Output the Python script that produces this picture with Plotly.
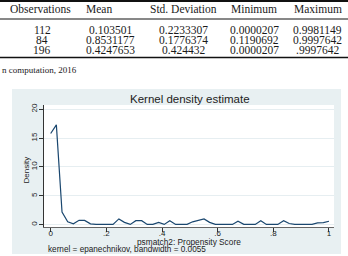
import plotly.graph_objects as go

# ---------------- data ----------------
table_headers = ["Observations", "Mean", "Std. Deviation", "Minimum", "Maximum"]
col_observations = ["112", "84", "196"]
col_mean = ["0.103501", "0.8531177", "0.4247653"]
col_std = ["0.2233307", "0.1776374", "0.424432"]
col_min = ["0.0000207", "0.1190692", "0.0000207"]
col_max = ["0.9981149", "0.9997642", ".9997642"]
table_note = "n computation, 2016"

chart_title = "Kernel density estimate"
x_title = "psmatch2: Propensity Score"
y_title = "Density"
kernel_note = "kernel = epanechnikov, bandwidth = 0.0055"

x_tick_vals = [0, 0.2, 0.4, 0.6, 0.8, 1]
x_tick_text = ["0", ".2", ".4", ".6", ".8", "1"]
y_tick_vals = [0, 5, 10, 15, 20]
y_tick_text = ["0", "5", "10", "15", "20"]

score = [0.000, 0.0204, 0.0408, 0.0612, 0.0816, 0.102, 0.122, 0.143, 0.163, 0.184,
         0.204, 0.224, 0.245, 0.265, 0.286, 0.306, 0.327, 0.347, 0.367, 0.388,
         0.408, 0.428, 0.449, 0.469, 0.490, 0.510, 0.530, 0.551, 0.571, 0.592,
         0.612, 0.633, 0.653, 0.673, 0.694, 0.714, 0.735, 0.755, 0.775, 0.796,
         0.816, 0.837, 0.857, 0.877, 0.898, 0.918, 0.939, 0.959, 0.980, 1.000]
density = [15.8, 17.3, 2.2, 0.5, 0.15, 0.75, 0.75, 0.15, 0.05, 0.05,
           0.05, 0.05, 1.0, 0.4, 0.05, 0.7, 0.7, 0.05, 0.05, 0.4,
           0.05, 0.7, 0.05, 0.05, 0.05, 0.5, 0.7, 1.0, 0.4, 0.05,
           0.05, 0.05, 0.05, 0.6, 0.05, 0.05, 0.05, 0.7, 0.05, 0.05,
           0.05, 0.7, 0.2, 0.05, 0.05, 0.05, 0.05, 0.3, 0.35, 0.6]

# ---------------- layout geometry (pixels) ----------------
W, H = 348, 256
L, R, T, B = 44, 334, 105, 227  # plot area in pixels


def px(x):
    return (x - L) / (R - L)


def py(y):
    return 1 - (y - T) / (B - T)


fig = go.Figure()
fig.add_trace(go.Scatter(x=score, y=density, mode="lines",
                         line=dict(color="#1A476F", width=1.2),
                         hoverinfo="skip", showlegend=False))

shapes = []
# Stata graph region
shapes.append(dict(type="rect", xref="paper", yref="paper", layer="below",
                   x0=px(12), x1=px(341), y0=py(254), y1=py(89),
                   fillcolor="#E8F0F2", line=dict(width=0)))
shapes.append(dict(type="rect", xref="paper", yref="paper", layer="below",
                   x0=0, x1=1, y0=0, y1=1,
                   fillcolor="white", line=dict(width=0)))
# table rules
shapes.append(dict(type="line", xref="paper", yref="paper",
                   x0=px(0), x1=px(348), y0=py(1), y1=py(1),
                   line=dict(color="#111", width=2)))
shapes.append(dict(type="line", xref="paper", yref="paper",
                   x0=px(0), x1=px(348), y0=py(19), y1=py(19),
                   line=dict(color="#111", width=1)))
shapes.append(dict(type="line", xref="paper", yref="paper",
                   x0=px(0), x1=px(348), y0=py(57.5), y1=py(57.5),
                   line=dict(color="#111", width=1.5)))

annotations = []
serif = dict(family="Liberation Serif", size=11.5, color="#1a1a1a")
header_x = [40.5, 99, 183, 254, 317.5]
for h, xc in zip(table_headers, header_x):
    annotations.append(dict(text=h, x=px(xc), y=py(9), xref="paper", yref="paper",
                            showarrow=False, xanchor="center", yanchor="middle", font=serif))
col_x = [42, 110.5, 183, 254.5, 317.5]
row_y = [29.5, 40, 50]
for col, xc in zip([col_observations, col_mean, col_std, col_min, col_max], col_x):
    for v, yc in zip(col, row_y):
        annotations.append(dict(text=v, x=px(xc), y=py(yc), xref="paper", yref="paper",
                                showarrow=False, xanchor="center", yanchor="middle", font=serif))
annotations.append(dict(text=table_note, x=px(0), y=py(69.5), xref="paper", yref="paper",
                        showarrow=False, xanchor="left", yanchor="middle",
                        font=dict(family="Liberation Serif", size=9, color="#1a1a1a")))

sans = "Liberation Sans"
annotations.append(dict(text=chart_title, x=px(190), y=py(99), xref="paper", yref="paper",
                        showarrow=False, xanchor="center", yanchor="middle",
                        font=dict(family=sans, size=11.5, color="#222")))
annotations.append(dict(text=x_title, x=px(189), y=py(241.5), xref="paper", yref="paper",
                        showarrow=False, xanchor="center", yanchor="middle",
                        font=dict(family=sans, size=8.3, color="#222")))
annotations.append(dict(text=kernel_note, x=px(46), y=py(249), xref="paper", yref="paper",
                        showarrow=False, xanchor="left", yanchor="middle",
                        font=dict(family=sans, size=8.2, color="#222")))
annotations.append(dict(text=y_title, x=px(25.5), y=py(170), xref="paper", yref="paper",
                        showarrow=False, xanchor="center", yanchor="middle", textangle=-90,
                        font=dict(family=sans, size=8, color="#222")))

fig.update_layout(
    width=W, height=H,
    margin=dict(l=L, r=W - R, t=T, b=H - B, pad=0),
    paper_bgcolor="white", plot_bgcolor="white",
    shapes=shapes, annotations=annotations,
    showlegend=False,
    xaxis=dict(range=[-0.024, 1.018], tickvals=x_tick_vals, ticktext=x_tick_text,
               ticks="outside", ticklen=4, tickcolor="#333", tickwidth=1,
               ticklabelstandoff=-6,
               showgrid=False, zeroline=False, showline=True, linecolor="#666", linewidth=1,
               tickfont=dict(family=sans, size=8, color="#222"), fixedrange=True),
    yaxis=dict(range=[-0.40, 20.74], tickvals=y_tick_vals, ticktext=y_tick_text,
               ticks="outside", ticklen=4, tickcolor="#333", tickwidth=1, tickangle=-90,
               ticklabelstandoff=-1,
               showgrid=True, gridcolor="#E6EEF1", gridwidth=1,
               zeroline=False, showline=True, linecolor="#333", linewidth=1,
               tickfont=dict(family=sans, size=8, color="#222"), fixedrange=True),
)

fig.write_html("out.html")
